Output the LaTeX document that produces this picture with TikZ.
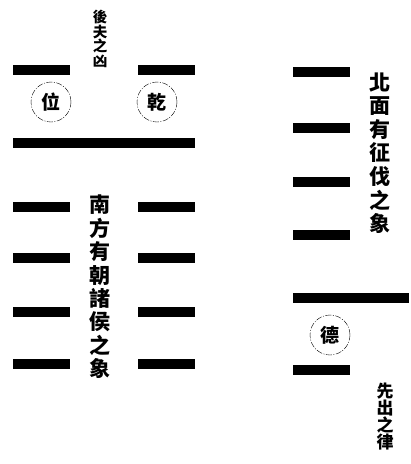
\documentclass[tikz,border=0pt]{standalone}
\usepackage{fontspec}
\newfontfamily\cjk{Noto Sans CJK TC}

\begin{document}
\begin{tikzpicture}[x=1pt,y=-1pt,
  yao/.style={line width=10pt},
  seal/.style={circle,draw,thin,dash pattern=on 6pt off 1.5pt on 1pt off 1.5pt,minimum size=40pt,inner sep=0pt,font=\cjk\bfseries\fontsize{19}{19}\selectfont},
  col/.style={align=center,inner sep=0pt}]
\def\yOne{70}
\def\yTwo{143}
\def\yThree{207}
\def\yFour{258}
\def\yFive{312}
\def\ySix{364}
\def\rOne{72}
\def\rTwo{128}
\def\rThree{182}
\def\rFour{235}
\def\rFive{298}
\def\rSix{370}
\useasboundingbox (0,0) rectangle (411,464);

% left hexagram
\draw[yao] (13,\yOne) -- (70,\yOne);
\draw[yao] (138,\yOne) -- (195,\yOne);
\draw[yao] (13,\yTwo) -- (195,\yTwo);
\foreach \y in {\yThree,\yFour,\yFive,\ySix} {
  \draw[yao] (13,\y) -- (70,\y);
  \draw[yao] (138,\y) -- (195,\y);
}

% right hexagram
\foreach \y in {\rOne,\rTwo,\rThree,\rFour,\rSix}
  \draw[yao] (293,\y) -- (350,\y);
\draw[yao] (293,\rFive) -- (409,\rFive);

\path
(51,102) node [seal] (wei) {位}
(157,102) node [seal] (qian) {乾}
(330,335) node [seal] (de) {德}
;

\path
(100,39) node [col,font=\cjk\bfseries\fontsize{14.5}{14.5}\selectfont] (houfu) {後\\夫\\之\\凶}
(100,287) node [col,font=\cjk\bfseries\fontsize{21}{23.4}\selectfont] (nanfang) {南\\方\\有\\朝\\諸\\侯\\之\\象}
(380,153) node [col,font=\cjk\bfseries\fontsize{21}{23.6}\selectfont] (beimian) {北\\面\\有\\征\\伐\\之\\象}
(385,417) node [col,font=\cjk\bfseries\fontsize{17}{17}\selectfont] (xianchu) {先\\出\\之\\律}
;
\end{tikzpicture}
\end{document}
